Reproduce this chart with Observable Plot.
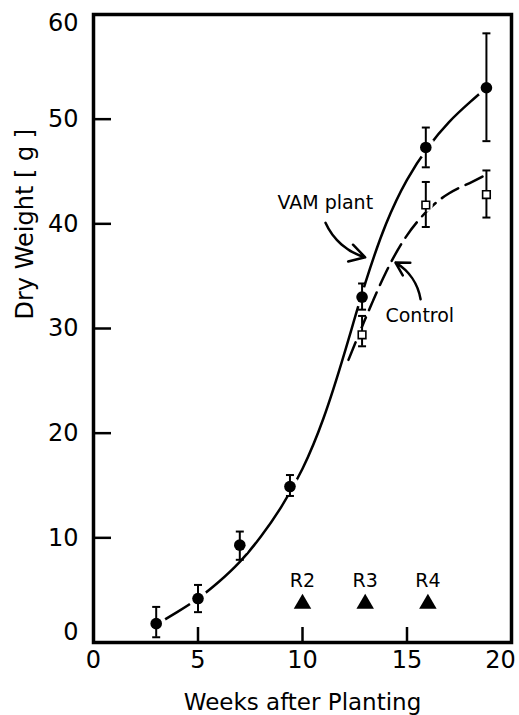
<!DOCTYPE html>
<html><head><meta charset="utf-8">
<script src="https://cdn.jsdelivr.net/npm/d3@7"></script>
<script src="https://cdn.jsdelivr.net/npm/@observablehq/plot@0.6"></script>
<style>body{margin:0;background:#fff}</style>
</head><body><div id="chart"></div>
<script>
// VAM plant (filled circles) — mean and error-bar ends
const weeksVam = [3, 5, 7, 9.4, 12.85, 15.9, 18.8];
const vamMean  = [1.8, 4.2, 9.3, 14.9, 33.0, 47.3, 53.0];
const vamLo    = [0.5, 2.9, 7.9, 14.0, 31.8, 45.4, 47.9];
const vamHi    = [3.4, 5.5, 10.6, 16.0, 34.3, 49.2, 58.2];
// Control (open squares)
const weeksCtl = [12.85, 15.9, 18.8];
const ctlMean  = [29.4, 41.8, 42.8];
const ctlLo    = [28.3, 39.7, 40.6];
const ctlHi    = [31.2, 44.0, 45.1];
// fitted curves
const vamFitX = [3, 4, 5, 6, 7, 8, 9, 10, 11, 12, 13, 14, 15, 16, 17, 18, 18.8];
const vamFitY = [1.7, 2.9, 4.2, 5.8, 7.7, 10.1, 13.0, 16.6, 21.4, 27.6, 34.3, 40.0, 44.2, 47.3, 49.7, 51.6, 53.0];
const ctlFitX = [12.2, 13, 14, 15, 16, 17, 18, 18.7];
const ctlFitY = [27.0, 30.9, 35.4, 38.9, 41.3, 42.9, 43.9, 44.6];
// growth stages
const stageWeeks  = [10, 13, 16];
const stageLabels = ["R2", "R3", "R4"];
const stageLevel = 3.7;
// annotations
const annoText = ["VAM plant", "Control"];
const annoX = [8.8, 13.97];
const annoY = [41.4, 30.6];
const arrowX1 = [11.1, 15.65];
const arrowY1 = [40.1, 32.8];
const arrowX2 = [13.0, 14.45];
const arrowY2 = [36.8, 36.3];
// ticks
const yTicksMid = [10, 20, 30, 40, 50];
const xTicksInner = [5, 10, 15];
const xTickLabels = [0, 5, 10, 15];
const xLabel = "Weeks after Planting";
const yLabel = "Dry Weight [ g ]";

const vam = weeksVam.map((x, i) => ({x, y: vamMean[i], lo: vamLo[i], hi: vamHi[i]}));
const ctl = weeksCtl.map((x, i) => ({x, y: ctlMean[i], lo: ctlLo[i], hi: ctlHi[i]}));
const vamFit = vamFitX.map((x, i) => ({x, y: vamFitY[i]}));
const ctlFit = ctlFitX.map((x, i) => ({x, y: ctlFitY[i]}));
const stages = stageWeeks.map((x, i) => ({x, y: stageLevel, label: stageLabels[i]}));
const annos = annoText.map((t, i) => ({x: annoX[i], y: annoY[i], t}));
const arrows = arrowX1.map((x1, i) => ({x1, y1: arrowY1[i], x2: arrowX2[i], y2: arrowY2[i]}));

const capSymbol = {draw(context, size) {
  const w = Math.sqrt(size / Math.PI);
  context.moveTo(-w, 0); context.lineTo(w, 0);
}};

const W = 519, H = 715, ML = 93, MR = 8, MT = 14, MB = 73;
const innerW = W - ML - MR, innerH = H - MT - MB;
const axText = {tickSize: 0, fontSize: 24, label: null};

const plot = Plot.plot({
  width: W, height: H, marginLeft: ML, marginRight: MR, marginTop: MT, marginBottom: MB,
  style: {fontFamily: "DejaVu Sans", background: "white", color: "black"},
  x: {domain: [0, 20]},
  y: {domain: [0, 60]},
  marks: [
    // fitted curves
    Plot.line(vamFit, {x: "x", y: "y", curve: "natural", strokeWidth: 2.5, stroke: "black"}),
    Plot.line(ctlFit, {x: "x", y: "y", curve: "natural", strokeWidth: 2.5, stroke: "black", strokeDasharray: "19,8"}),
    // white halos around markers
    Plot.dot(vam, {x: "x", y: "y", r: 10, fill: "white"}),
    Plot.dot(ctl, {x: "x", y: "y", r: 7, fill: "white"}),
    // error bars
    Plot.ruleX(vam, {x: "x", y1: "lo", y2: "hi", strokeWidth: 2, stroke: "black"}),
    Plot.ruleX(ctl, {x: "x", y1: "lo", y2: "hi", strokeWidth: 2, stroke: "black"}),
    Plot.dot(vam, {x: "x", y: "lo", symbol: capSymbol, r: 4, stroke: "black", strokeWidth: 2}),
    Plot.dot(vam, {x: "x", y: "hi", symbol: capSymbol, r: 4, stroke: "black", strokeWidth: 2}),
    Plot.dot(ctl, {x: "x", y: "lo", symbol: capSymbol, r: 4, stroke: "black", strokeWidth: 2}),
    Plot.dot(ctl, {x: "x", y: "hi", symbol: capSymbol, r: 4, stroke: "black", strokeWidth: 2}),
    // markers
    Plot.dot(vam, {x: "x", y: "y", r: 5.8, fill: "black", stroke: "none"}),
    Plot.dot(ctl, {x: "x", y: "y", symbol: "square", r: 4.3, fill: "white", stroke: "black", strokeWidth: 1.6}),
    // annotations
    Plot.text(annos, {x: "x", y: "y", text: "t", textAnchor: "start", lineAnchor: "bottom", fontSize: 19}),
    Plot.arrow(arrows, {x1: "x1", y1: "y1", x2: "x2", y2: "y2", bend: -25, strokeWidth: 2.5, headLength: 11, stroke: "black"}),
    // growth stages
    Plot.dot(stages, {x: "x", y: "y", symbol: "triangle", r: 6.5, fill: "black"}),
    Plot.text(stages, {x: "x", y: "y", text: "label", dy: -23, fontSize: 19}),
    // frame & inward ticks
    Plot.frame({strokeWidth: 3.5, stroke: "black"}),
    Plot.tickY(yTicksMid, {y: d => d, insetRight: innerW - 18, strokeWidth: 2.5, stroke: "black"}),
    Plot.tickX(xTicksInner, {x: d => d, insetTop: innerH - 15, strokeWidth: 2.5, stroke: "black"}),
    // tick labels
    Plot.axisY(yTicksMid, {...axText, tickPadding: 15}),
    Plot.axisY([0], {...axText, tickPadding: 15, dy: -10}),
    Plot.axisY([60], {...axText, tickPadding: 15, dy: 9}),
    Plot.axisX(xTickLabels, {...axText, tickPadding: 8}),
    Plot.axisX([20], {...axText, tickPadding: 8, dx: -11}),
    // axis titles
    Plot.text([xLabel], {frameAnchor: "bottom", text: d => d, dy: 67, lineAnchor: "bottom", fontSize: 23}),
    Plot.text([yLabel], {frameAnchor: "left", text: d => d, rotate: -90, dx: -61, dy: -9, lineAnchor: "bottom", fontSize: 24})
  ]
});
document.getElementById("chart").appendChild(plot);
</script>
</body></html>
